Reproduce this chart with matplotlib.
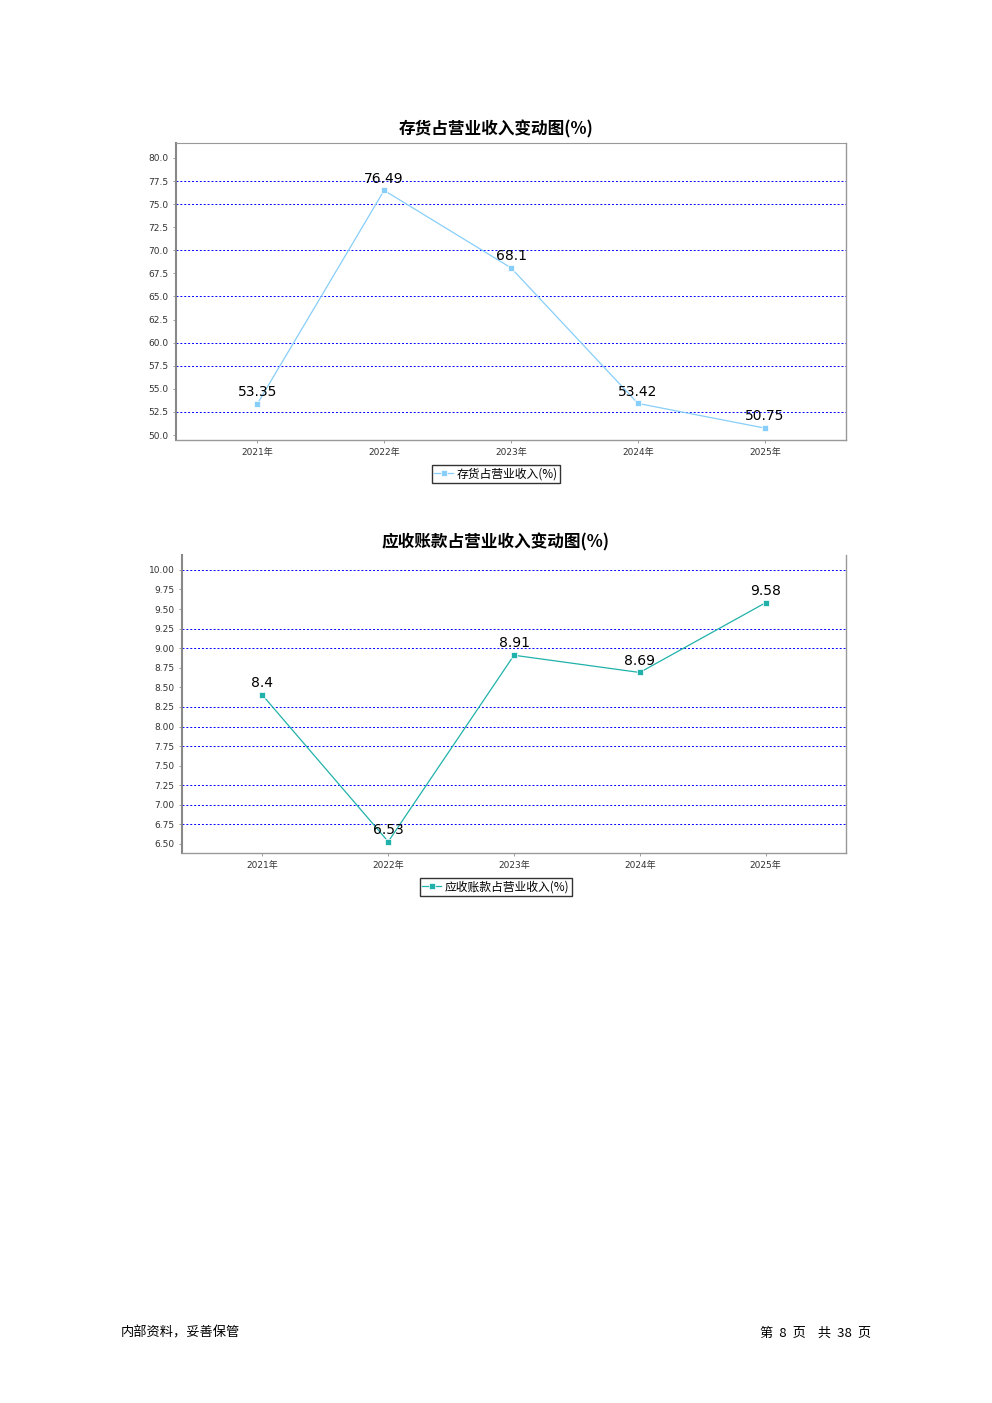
import matplotlib.pyplot as plt

plt.rcParams['font.family'] = ['Noto Sans CJK SC', 'DejaVu Sans']

years = ["2021年", "2022年", "2023年", "2024年", "2025年"]

inventory_pct = [53.35, 76.49, 68.1, 53.42, 50.75]
inventory_ticks = [50.0, 52.5, 55.0, 57.5, 60.0, 62.5, 65.0, 67.5, 70.0, 72.5, 75.0, 77.5, 80.0]
inventory_grid = [52.5, 57.5, 60.0, 65.0, 70.0, 75.0, 77.5]

receivable_pct = [8.4, 6.53, 8.91, 8.69, 9.58]
receivable_ticks = [6.50, 6.75, 7.00, 7.25, 7.50, 7.75, 8.00, 8.25, 8.50, 8.75, 9.00, 9.25, 9.50, 9.75, 10.00]
receivable_grid = [6.75, 7.00, 7.25, 7.75, 8.00, 8.25, 9.00, 9.25, 10.00]

W, H = 992, 1403
TICK_FONT = ['DejaVu Sans', 'Noto Sans CJK SC']


def px_axes(fig, left, top, right, bottom):
    return fig.add_axes([left / W, (H - bottom) / H, (right - left) / W, (bottom - top) / H])


def draw_chart(ax, values, ticks, grid, ylim, fmt, color, title, label, top_spine,
               title_y, legend_y):
    x = list(range(len(values)))
    ax.set_xlim(-0.64, len(values) - 1 + 0.64)
    ax.set_ylim(*ylim)
    for g in grid:
        ax.axhline(g, color="#0000ff", linestyle=(0, (2, 2)), linewidth=0.7, zorder=1)
    ax.plot(x, values, color=color, linewidth=0.9, marker="s", markersize=5,
            markerfacecolor=color, markeredgecolor="white", markeredgewidth=0.5,
            label=label, zorder=3)
    for xi, v in zip(x, values):
        ax.annotate(f"{v:g}", (xi, v), xytext=(0, 3.5), textcoords="offset points",
                    ha="center", va="bottom", fontsize=10, family="DejaVu Sans", zorder=4)
    ax.set_xticks(x)
    ax.set_xticklabels(years, family=TICK_FONT)
    ax.set_yticks(ticks)
    ax.set_yticklabels([fmt.format(t) for t in ticks], family=TICK_FONT)
    ax.tick_params(axis="both", labelsize=6.5, colors="#777777", length=2, width=0.5,
                   labelcolor="#333333")
    for s in ["left", "bottom", "right"]:
        ax.spines[s].set_color("#999999")
        ax.spines[s].set_linewidth(1.0)
    ax.spines["left"].set_color("#888888")
    ax.spines["left"].set_linewidth(1.5)
    ax.spines["top"].set_visible(top_spine)
    ax.spines["top"].set_color("#999999")
    fig = ax.figure
    fig.text(496 / W, (H - title_y) / H, title,
             ha="center", va="center", fontsize=12, fontweight="bold")
    leg = fig.legend(*ax.get_legend_handles_labels(), loc="center",
                     bbox_to_anchor=(496 / W, (H - legend_y) / H), fontsize=8.5,
                     frameon=True, fancybox=False, handlelength=1.6, borderpad=0.2,
                     handletextpad=0.3, markerscale=0.8)
    leg.get_frame().set_edgecolor("black")
    leg.get_frame().set_linewidth(1.0)


fig = plt.figure(figsize=(W / 100, H / 100), dpi=100)

ax1 = px_axes(fig, 176, 143, 846, 440)
draw_chart(ax1, inventory_pct, inventory_ticks, inventory_grid, (49.46, 81.62), "{:.1f}",
           "#87cefa", "存货占营业收入变动图(%)", "存货占营业收入(%)", True, 129, 474)

ax2 = px_axes(fig, 182, 555, 846, 853)
draw_chart(ax2, receivable_pct, receivable_ticks, receivable_grid, (6.385, 10.19), "{:.2f}",
           "#20b2aa", "应收账款占营业收入变动图(%)", "应收账款占营业收入(%)", False, 542, 887)

fig.text(121 / W, (H - 1333) / H, "内部资料，妥善保管", ha="left", va="center", fontsize=9.5)
fig.text(871 / W, (H - 1333) / H, "第  8  页    共  38  页", ha="right", va="center",
         fontsize=9.5)

fig.savefig("out.png", dpi=100)
